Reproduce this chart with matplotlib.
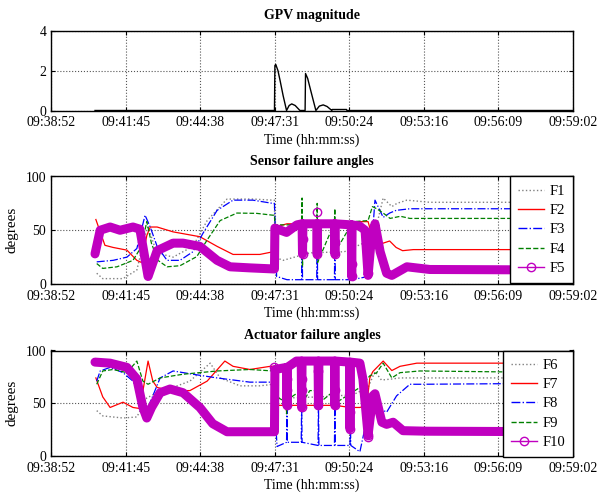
import numpy as np
import matplotlib
matplotlib.use("Agg")
import matplotlib.pyplot as plt
from matplotlib.lines import Line2D

plt.rcParams['font.family'] = ['Liberation Serif', 'DejaVu Serif']
plt.rcParams['font.size'] = 10

# ---------------- data (time in seconds after 09:38:52) ----------------
time_labels = ["09:38:52", "09:41:45", "09:44:38", "09:47:31",
               "09:50:24", "09:53:16", "09:56:09", "09:59:02"]
t_end = 1210

gpv_t = [102, 518, 519, 521, 526, 531, 538, 546, 552, 558, 566, 577, 589, 590, 595,
         600, 608, 614, 622, 631, 640, 651, 652, 685, 686, 1210]
gpv_v = [0, 0, 2.25, 2.3, 2.0, 1.5, 0.75, 0, 0.25, 0.33, 0.25, 0, 0, 1.85, 1.6,
         1.17, 0.5, 0, 0.22, 0.28, 0.2, 0, 0.05, 0.05, 0, 0]

# Sensor failure angles
f1_t = [106, 120, 167, 199, 218, 225, 245, 283, 329, 362, 408, 468, 514, 518, 519, 538,
        600, 680, 735, 755, 770, 790, 802, 825, 878, t_end]
f1_v = [10, 5, 5, 13, 45, 53, 29, 25, 35, 59, 79, 79, 78, 78, 25, 22,
        29, 30, 40, 55, 80, 72, 75, 78, 76, 76]

f2_t = [104, 125, 144, 176, 199, 210, 222, 230, 246, 283, 345, 385, 422, 484, 515, 518,
        519, 547, 584, 650, 716, 735, 744, 755, 770, 785, 800, 815, 840, t_end]
f2_v = [60, 36, 34, 31.5, 22, 20, 45, 53, 53, 48.5, 44, 35, 27.5, 27.5, 30, 30,
        53, 56, 56, 57, 58, 58, 45, 36, 38, 40, 34, 31, 32, 32]

f3_t = [106, 144, 176, 199, 218, 230, 246, 269, 299, 329, 352, 385, 422, 468, 514, 518,
        523, 547, 581, 582, 583, 616, 617, 618, 657, 658, 659, 696, 697, 698, 735, 744,
        751, 770, 785, 800, 832, 871, t_end]
f3_v = [20.6, 22, 25, 33, 64, 53, 35, 22, 22, 30, 47, 68.5, 78, 78, 75, 75,
        7, 4, 4, 55, 4, 4, 50, 4, 4, 45, 4, 4, 40, 4, 7, 40,
        78, 62, 66, 68.5, 70, 70, 70]

f4_t = [106, 120, 153, 190, 210, 222, 233, 248, 269, 299, 338, 362, 392, 431, 477, 514,
        518, 519, 547, 581, 582, 583, 584, 600, 616, 617, 618, 657, 658, 659, 700, 735,
        745, 755, 770, 786, 810, 832, t_end]
f4_v = [19, 14.5, 16, 22, 35, 58, 37.6, 22, 16, 17, 25.5, 41, 59, 66, 65.7, 64,
        64, 55, 55, 55, 80, 16, 55, 56, 56, 75, 20, 57, 70, 30, 58, 59,
        72, 70, 66, 61, 63, 61, 61]

f5_t = [102, 114, 137, 160, 190, 206, 225, 246, 283, 306, 345, 385, 415, 461, 516, 518,
        519, 546, 570, 582, 583, 584, 616, 617, 618, 657, 658, 659, 696, 697, 698, 715,
        728, 735, 742, 751, 763, 778, 790, 825, 878, t_end]
f5_v = [28, 50, 53, 50, 53, 51, 7, 31, 38, 38, 35, 22, 16, 15, 14, 14,
        52, 48, 55, 56, 28, 56, 56, 28, 56, 56, 28, 56, 55, 7, 55, 54,
        50, 8, 40, 56, 30, 10, 8, 16, 13.5, 13]
f5_mt = [583, 583, 617, 617, 658, 658, 697, 697, 735, 735]
f5_mv = [42, 28, 67, 28, 39, 28, 19, 7, 25, 10]

# Actuator failure angles
f6_t = [106, 120, 167, 199, 222, 246, 283, 322, 369, 392, 438, 484, 515, 518, 519, 547,
        620, 700, 735, 751, 766, 790, 809, 855, t_end]
f6_v = [43, 38, 36, 37, 55, 60, 65, 71, 88, 74, 66.5, 66.5, 68, 68, 55, 55,
        56, 58, 65, 80, 72, 73, 74, 74, 74]

f7_t = [104, 120, 137, 167, 190, 206, 225, 236, 246, 276, 292, 322, 362, 403, 422, 461,
        508, 518, 519, 545, 546, 547, 580, 581, 582, 619, 620, 621, 657, 658, 659, 693,
        716, 732, 739, 746, 770, 790, 809, 848, t_end]
f7_v = [74, 56, 46, 51, 46, 45, 90, 71, 65, 62, 62, 62, 71, 90, 85, 82,
        85, 85, 48, 48, 42, 48, 48, 42, 48, 48, 52, 48, 48, 42, 48, 46,
        46, 48, 74, 80, 90, 81, 85, 88, 88]

f8_t = [106, 114, 137, 167, 190, 213, 225, 253, 283, 329, 385, 461, 515, 518, 522, 524,
        546, 547, 548, 561, 580, 581, 582, 619, 620, 621, 639, 657, 658, 659, 677, 693,
        694, 695, 716, 739, 751, 763, 778, 801, 832, 862, t_end]
f8_v = [71, 80.6, 84, 79, 71, 51, 46, 74, 80.6, 77.5, 74, 70, 70, 70, 23, 9,
        13, 50, 13, 13, 13, 48, 13, 10, 48, 10, 10, 10, 48, 10, 10, 10,
        30, 10, 4, 48, 57, 45, 41.5, 57, 68, 68, 69]

f9_t = [106, 120, 144, 176, 199, 213, 225, 253, 306, 385, 461, 515, 518, 519, 545, 546,
        547, 561, 580, 581, 582, 600, 619, 620, 621, 657, 658, 659, 716, 739, 755, 770,
        790, 809, 855, t_end]
f9_v = [68, 80.6, 82, 79, 90, 71, 68, 74, 77.5, 80.6, 82, 80.6, 80.6, 57, 51, 40,
        51, 57, 62, 70, 50, 62, 62, 70, 50, 62, 70, 50, 65, 76, 79, 88,
        74, 79, 80.6, 79]

f10_t = [102, 137, 176, 199, 213, 222, 233, 253, 276, 306, 345, 375, 408, 461, 516, 518,
         519, 546, 547, 548, 569, 580, 581, 582, 619, 620, 621, 657, 658, 659, 692, 693,
         694, 716, 723, 735, 746, 751, 767, 778, 793, 816, 871, t_end]
f10_v = [89, 88, 84, 73, 46, 36, 46, 60, 63.5, 60, 46, 30.6, 23, 23, 23, 23,
         82, 84, 48, 84, 90, 90, 46, 90, 90, 48, 90, 90, 48, 90, 89, 26,
         89, 88, 73, 20, 57, 59, 32, 30, 32, 24, 23.5, 23]
f10_mt = [517, 547, 547, 547, 581, 581, 581, 619, 619, 658, 658, 693, 693, 735, 735]
f10_mv = [84, 73, 63, 48, 73, 63, 46, 81, 48, 63, 48, 42, 26, 20, 18]

# ---------------- styling ----------------
GRAY = '#808080'
RED = '#ff0000'
BLUE = '#0000ff'
GREEN = '#008000'
MAG = '#c000c0'

fig = plt.figure(figsize=(5.97, 4.95), dpi=100)
L, W = 51 / 597, 522 / 597
ax1 = fig.add_axes([L, 1 - 110.5 / 495, W, 80 / 495])
ax2 = fig.add_axes([L, 1 - 284 / 495, W, 107.5 / 495])
ax3 = fig.add_axes([L, 1 - 456 / 495, W, 105.5 / 495])

xt = np.linspace(0, t_end, len(time_labels))


def style(ax, yt):
    ax.set_xlim(0, t_end)
    ax.set_xticks(xt)
    ax.set_xticklabels(time_labels)
    ax.set_yticks(yt)
    ax.set_ylim(yt[0], yt[-1])
    ax.grid(True, linestyle=':', color='#555555', linewidth=0.8)
    ax.tick_params(direction='in', top=True, right=True, length=3, labelsize=9.9, pad=4)
    ax.tick_params(axis='y', pad=3.5)
    for s in ax.spines.values():
        s.set_linewidth(1.0)
    ax.set_xlabel('Time (hh:mm:ss)', fontsize=10, labelpad=3)


# Top panel
ax1.plot(gpv_t, gpv_v, color='black', lw=1.0)
style(ax1, [0, 2, 4])
ax1.set_title('GPV magnitude', fontweight='bold', fontsize=10, pad=8)

# Middle panel
ax2.plot(f1_t, f1_v, color=GRAY, ls=':', lw=1.0)
ax2.plot(f2_t, f2_v, color=RED, ls='-', lw=0.9)
ax2.plot(f3_t, f3_v, color=BLUE, ls='-.', lw=0.9)
ax2.plot(f4_t, f4_v, color=GREEN, ls='--', lw=0.9)
ax2.plot(f5_t, f5_v, color=MAG, lw=6.5, solid_joinstyle='round', solid_capstyle='round')
ax2.plot(f5_mt, f5_mv, ls='none', marker='o', ms=6, mfc='none', mec=MAG, mew=1.0)
style(ax2, [0, 50, 100])
ax2.set_title('Sensor failure angles', fontweight='bold', fontsize=10, pad=8)
ax2.set_ylabel('degrees', fontsize=11, labelpad=5)

# Bottom panel
ax3.plot(f6_t, f6_v, color=GRAY, ls=':', lw=1.0)
ax3.plot(f7_t, f7_v, color=RED, ls='-', lw=0.9)
ax3.plot(f8_t, f8_v, color=BLUE, ls='-.', lw=0.9)
ax3.plot(f9_t, f9_v, color=GREEN, ls='--', lw=0.9)
ax3.plot(f10_t, f10_v, color=MAG, lw=6.5, solid_joinstyle='round', solid_capstyle='round')
ax3.plot(f10_mt, f10_mv, ls='none', marker='o', ms=6, mfc='none', mec=MAG, mew=1.0)
style(ax3, [0, 50, 100])
ax3.set_title('Actuator failure angles', fontweight='bold', fontsize=10, pad=8)
ax3.set_ylabel('degrees', fontsize=11, labelpad=5)


def legend_handles():
    return [Line2D([], [], color=GRAY, ls=':', lw=1.0),
            Line2D([], [], color=RED, ls='-', lw=1.0),
            Line2D([], [], color=BLUE, ls='-.', lw=1.0),
            Line2D([], [], color=GREEN, ls='--', lw=1.0),
            Line2D([], [], color=MAG, ls='-', lw=1.0, marker='o', ms=6, mfc='none', mec=MAG)]


for ax, labels in ((ax2, ['F1', 'F2', 'F3', 'F4', 'F5']),
                   (ax3, ['F6', 'F7', 'F8', 'F9', 'F10'])):
    leg = ax.legend(legend_handles(), labels, loc='upper right', borderaxespad=0,
                    fontsize=10.5, handlelength=1.8, handletextpad=0.35,
                    labelspacing=0.42, borderpad=0.55, fancybox=False,
                    framealpha=1, edgecolor='black')
    leg.get_frame().set_linewidth(1.0)

fig.savefig('out.png', dpi=100)
